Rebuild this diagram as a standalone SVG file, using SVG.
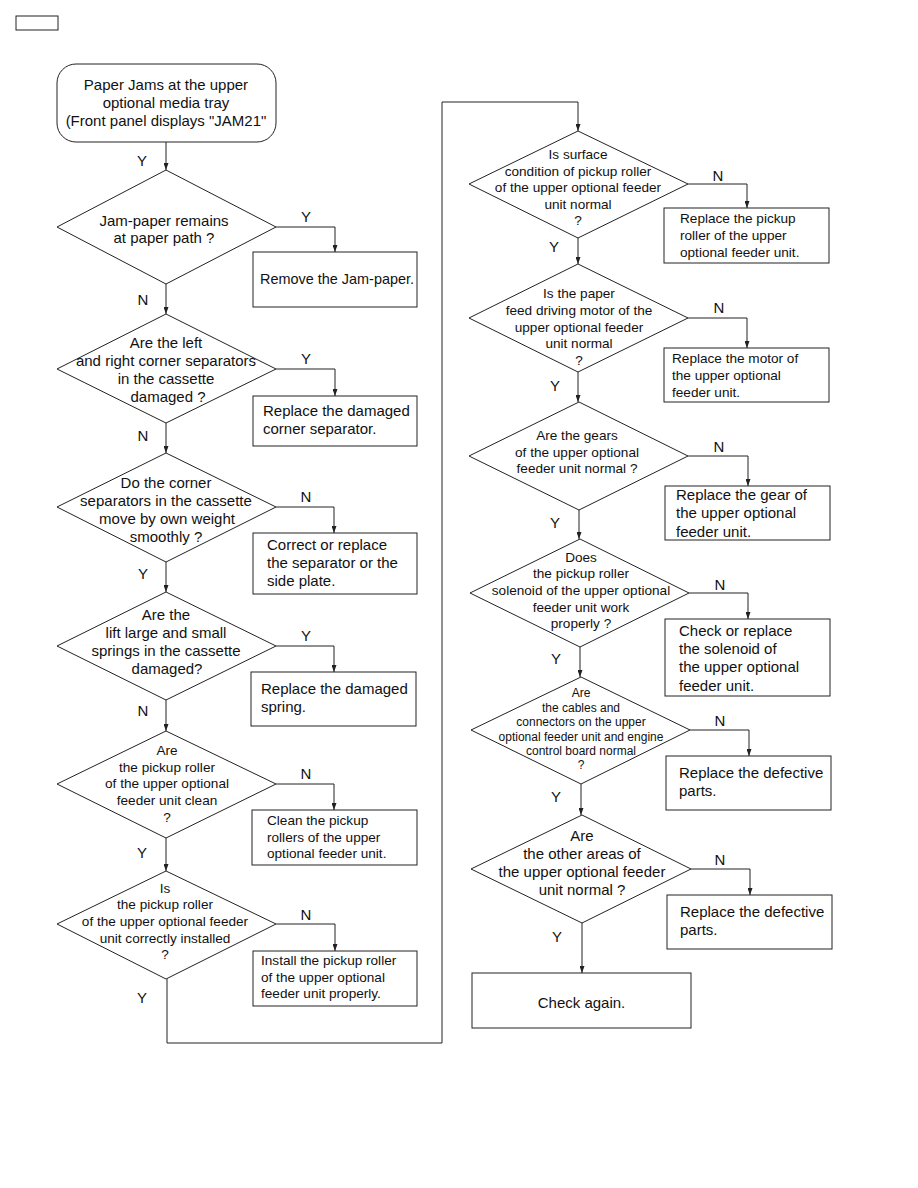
<svg xmlns="http://www.w3.org/2000/svg" width="918" height="1188" viewBox="0 0 918 1188">
<defs>
<marker id="ah" markerUnits="userSpaceOnUse" markerWidth="7" markerHeight="5" refX="7" refY="2.5" orient="auto">
<path d="M0,0 L7,2.5 L0,5 z" fill="#222"/>
</marker>
<style>
.s{fill:#fff;stroke:#222;stroke-width:1}
.c{fill:none;stroke:#222;stroke-width:1}
text{font-family:"Liberation Sans",Arial,sans-serif;fill:#111}
.t15{font-size:15px}
.t14{font-size:13.6px}
.t12{font-size:12px}
.m{text-anchor:middle}
.lb{font-size:15px;text-anchor:middle}
</style>
</defs>
<rect x="16" y="16" width="42" height="14" class="s"/>

<g id="connectors">
<path class="c" d="M166,142 V170" marker-end="url(#ah)"/>
<path class="c" d="M276,227 H335 V252" marker-end="url(#ah)"/>
<path class="c" d="M166,284 V314" marker-end="url(#ah)"/>
<path class="c" d="M276,369 H335 V396" marker-end="url(#ah)"/>
<path class="c" d="M166,423 V453" marker-end="url(#ah)"/>
<path class="c" d="M276,507 H334 V533" marker-end="url(#ah)"/>
<path class="c" d="M166,562 V592" marker-end="url(#ah)"/>
<path class="c" d="M276,646 H334 V672" marker-end="url(#ah)"/>
<path class="c" d="M166,700 V731" marker-end="url(#ah)"/>
<path class="c" d="M276,784 H334 V810" marker-end="url(#ah)"/>
<path class="c" d="M166,838 V871" marker-end="url(#ah)"/>
<path class="c" d="M276,924 H335 V951" marker-end="url(#ah)"/>
<path class="c" d="M167,979 V1043 H442 V102 H578 V131" marker-end="url(#ah)"/>
<path class="c" d="M688,184 H747 V208" marker-end="url(#ah)"/>
<path class="c" d="M578,238 V264" marker-end="url(#ah)"/>
<path class="c" d="M688,318 H747 V348" marker-end="url(#ah)"/>
<path class="c" d="M578,372 V402" marker-end="url(#ah)"/>
<path class="c" d="M688,456 H748 V486" marker-end="url(#ah)"/>
<path class="c" d="M579,510 V539" marker-end="url(#ah)"/>
<path class="c" d="M689,593 H748 V619" marker-end="url(#ah)"/>
<path class="c" d="M580,647 V677" marker-end="url(#ah)"/>
<path class="c" d="M690,730 H749 V756" marker-end="url(#ah)"/>
<path class="c" d="M581,784 V815" marker-end="url(#ah)"/>
<path class="c" d="M691,869 H750 V895" marker-end="url(#ah)"/>
<path class="c" d="M582,923 V973" marker-end="url(#ah)"/>
<text class="lb" x="142" y="166">Y</text>
<text class="lb" x="306" y="222">Y</text>
<text class="lb" x="143" y="305">N</text>
<text class="lb" x="306" y="364">Y</text>
<text class="lb" x="143" y="441">N</text>
<text class="lb" x="306" y="502">N</text>
<text class="lb" x="143" y="579">Y</text>
<text class="lb" x="306" y="641">Y</text>
<text class="lb" x="143" y="716">N</text>
<text class="lb" x="306" y="779">N</text>
<text class="lb" x="142" y="858">Y</text>
<text class="lb" x="306" y="920">N</text>
<text class="lb" x="142" y="1003">Y</text>
<text class="lb" x="718" y="181">N</text>
<text class="lb" x="554" y="252">Y</text>
<text class="lb" x="719" y="313">N</text>
<text class="lb" x="555" y="391">Y</text>
<text class="lb" x="719" y="452">N</text>
<text class="lb" x="555" y="528">Y</text>
<text class="lb" x="720" y="590">N</text>
<text class="lb" x="556" y="664">Y</text>
<text class="lb" x="720" y="726">N</text>
<text class="lb" x="556" y="802">Y</text>
<text class="lb" x="720" y="865">N</text>
<text class="lb" x="557" y="942">Y</text>
</g>

<g id="start">
<rect x="57" y="64" width="219" height="78" rx="19" class="s"/>
<text class="t15 m" x="166" y="90">Paper Jams at the upper</text>
<text class="t15 m" x="166" y="108">optional media tray</text>
<text class="t15 m" x="166" y="126">(Front panel displays "JAM21"</text>
</g>

<g id="d1">
<path class="s" d="M166,170 L276,227 L166,284 L57,227 z"/>
<text class="t15 m" x="164" y="226">Jam-paper remains</text>
<text class="t15 m" x="164" y="243">at paper path ?</text>
</g>
<g id="b1">
<rect x="253" y="252" width="164" height="55" class="s"/>
<text class="t15" x="260" y="284" textLength="154" lengthAdjust="spacingAndGlyphs">Remove the Jam-paper.</text>
</g>

<g id="d2">
<path class="s" d="M166,314 L276,369 L166,423 L57,369 z"/>
<text class="t15 m" x="166" y="348">Are the left</text>
<text class="t15 m" x="166" y="366">and right corner separators</text>
<text class="t15 m" x="166" y="384">in the cassette</text>
<text class="t15 m" x="168" y="402">damaged ?</text>
</g>
<g id="b2">
<rect x="253" y="396" width="164" height="50" class="s"/>
<text class="t15" x="263" y="416">Replace the damaged</text>
<text class="t15" x="263" y="434">corner separator.</text>
</g>

<g id="d3">
<path class="s" d="M166,453 L276,507 L166,562 L57,507 z"/>
<text class="t15 m" x="166" y="488">Do the corner</text>
<text class="t15 m" x="166" y="506">separators in the cassette</text>
<text class="t15 m" x="167" y="524">move by own weight</text>
<text class="t15 m" x="166" y="542">smoothly ?</text>
</g>
<g id="b3">
<rect x="253" y="533" width="164" height="61" class="s"/>
<text class="t15" x="267" y="550">Correct or replace</text>
<text class="t15" x="267" y="568">the separator or the</text>
<text class="t15" x="267" y="586">side plate.</text>
</g>

<g id="d4">
<path class="s" d="M166,592 L276,646 L166,700 L57,646 z"/>
<text class="t15 m" x="166" y="620">Are the</text>
<text class="t15 m" x="166" y="638">lift large and small</text>
<text class="t15 m" x="166" y="656">springs in the cassette</text>
<text class="t15 m" x="167" y="674">damaged?</text>
</g>
<g id="b4">
<rect x="251" y="672" width="165" height="54" class="s"/>
<text class="t15" x="261" y="694">Replace the damaged</text>
<text class="t15" x="261" y="712">spring.</text>
</g>

<g id="d5">
<path class="s" d="M166,731 L276,784 L166,838 L57,784 z"/>
<text class="t14 m" x="167" y="755">Are</text>
<text class="t14 m" x="167" y="771.5">the pickup roller</text>
<text class="t14 m" x="167" y="788">of the upper optional</text>
<text class="t14 m" x="167" y="805">feeder unit clean</text>
<text class="t14 m" x="167" y="821.5">?</text>
</g>
<g id="b5">
<rect x="252" y="810" width="165" height="55" class="s"/>
<text class="t14" x="267" y="825">Clean the pickup</text>
<text class="t14" x="267" y="842">rollers of the upper</text>
<text class="t14" x="267" y="858">optional feeder unit.</text>
</g>

<g id="d6">
<path class="s" d="M166,871 L276,924 L166,979 L57,924 z"/>
<text class="t14 m" x="165" y="893">Is</text>
<text class="t14 m" x="165" y="909">the pickup roller</text>
<text class="t14 m" x="165" y="926">of the upper optional feeder</text>
<text class="t14 m" x="165" y="943">unit correctly installed</text>
<text class="t14 m" x="165" y="959">?</text>
</g>
<g id="b6">
<rect x="253" y="951" width="164" height="55" class="s"/>
<text class="t14" x="261" y="965">Install the pickup roller</text>
<text class="t14" x="261" y="982">of the upper optional</text>
<text class="t14" x="261" y="998">feeder unit properly.</text>
</g>

<g id="d7">
<path class="s" d="M578,131 L688,184 L578,238 L469,184 z"/>
<text class="t14 m" x="578" y="159">Is surface</text>
<text class="t14 m" x="578" y="176">condition of pickup roller</text>
<text class="t14 m" x="578" y="192">of the upper optional feeder</text>
<text class="t14 m" x="578" y="209">unit normal</text>
<text class="t14 m" x="578" y="225">?</text>
</g>
<g id="b7">
<rect x="664" y="208" width="165" height="55" class="s"/>
<text class="t14" x="680" y="223">Replace the pickup</text>
<text class="t14" x="680" y="240">roller of the upper</text>
<text class="t14" x="680" y="257">optional feeder unit.</text>
</g>

<g id="d8">
<path class="s" d="M578,264 L688,318 L578,372 L469,318 z"/>
<text class="t14 m" x="579" y="298">Is the paper</text>
<text class="t14 m" x="579" y="315">feed driving motor of the</text>
<text class="t14 m" x="579" y="332">upper optional feeder</text>
<text class="t14 m" x="579" y="348">unit normal</text>
<text class="t14 m" x="579" y="365">?</text>
</g>
<g id="b8">
<rect x="664" y="348" width="165" height="54" class="s"/>
<text class="t14" x="672" y="363">Replace the motor of</text>
<text class="t14" x="672" y="380">the upper optional</text>
<text class="t14" x="672" y="397">feeder unit.</text>
</g>

<g id="d9">
<path class="s" d="M579,402 L688,456 L579,510 L469,456 z"/>
<text class="t14 m" x="577" y="440">Are the gears</text>
<text class="t14 m" x="577" y="457">of the upper optional</text>
<text class="t14 m" x="577" y="473">feeder unit normal ?</text>
</g>
<g id="b9">
<rect x="665" y="486" width="165" height="54" class="s"/>
<text class="t15" x="676" y="500">Replace the gear of</text>
<text class="t15" x="676" y="518">the upper optional</text>
<text class="t15" x="676" y="537">feeder unit.</text>
</g>

<g id="d10">
<path class="s" d="M580,539 L689,593 L580,647 L470,593 z"/>
<text class="t14 m" x="581" y="562">Does</text>
<text class="t14 m" x="581" y="578">the pickup roller</text>
<text class="t14 m" x="581" y="595">solenoid of the upper optional</text>
<text class="t14 m" x="581" y="612">feeder unit work</text>
<text class="t14 m" x="581" y="628">properly ?</text>
</g>
<g id="b10">
<rect x="665" y="619" width="165" height="77" class="s"/>
<text class="t15" x="679" y="636">Check or replace</text>
<text class="t15" x="679" y="654">the solenoid of</text>
<text class="t15" x="679" y="672">the upper optional</text>
<text class="t15" x="679" y="691">feeder unit.</text>
</g>

<g id="d11">
<path class="s" d="M581,677 L690,730 L581,784 L471,730 z"/>
<text class="t12 m" x="581" y="697">Are</text>
<text class="t12 m" x="581" y="712">the cables and</text>
<text class="t12 m" x="581" y="726">connectors on the upper</text>
<text class="t12 m" x="581" y="741">optional feeder unit and engine</text>
<text class="t12 m" x="581" y="755">control board normal</text>
<text class="t12 m" x="581" y="769">?</text>
</g>
<g id="b11">
<rect x="666" y="756" width="165" height="54" class="s"/>
<text class="t15" x="679" y="778">Replace the defective</text>
<text class="t15" x="679" y="796">parts.</text>
</g>

<g id="d12">
<path class="s" d="M582,815 L691,869 L582,923 L471,869 z"/>
<text class="t15 m" x="582" y="841">Are</text>
<text class="t15 m" x="582" y="859">the other areas of</text>
<text class="t15 m" x="582" y="877">the upper optional feeder</text>
<text class="t15 m" x="582" y="895">unit normal ?</text>
</g>
<g id="b12">
<rect x="667" y="895" width="165" height="54" class="s"/>
<text class="t15" x="680" y="917">Replace the defective</text>
<text class="t15" x="680" y="935">parts.</text>
</g>

<g id="end">
<rect x="472" y="973" width="219" height="55" class="s"/>
<text class="t15 m" x="581.5" y="1008">Check again.</text>
</g>
</svg>
